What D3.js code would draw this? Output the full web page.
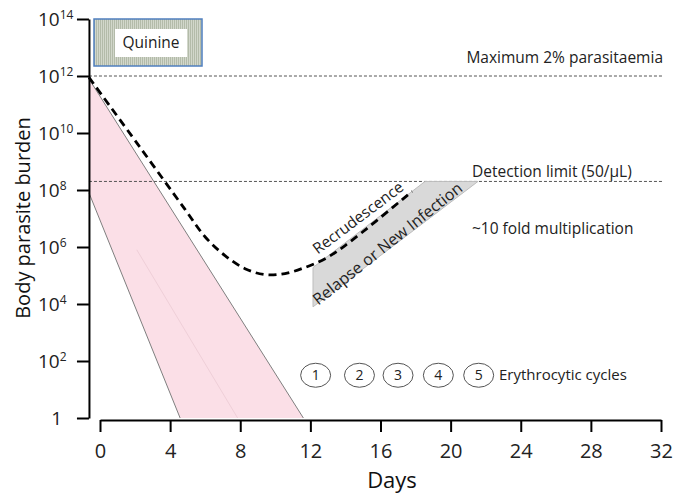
<!DOCTYPE html>
<html>
<head>
<meta charset="utf-8">
<script src="https://cdn.jsdelivr.net/npm/d3@7"></script>
<style>
  body { margin: 0; background: #fff; }
  svg { font-family: "Open Sans", sans-serif; }
</style>
</head>
<body>
<div id="chart"></div>
<script>
// chart values (days on x, log10 of parasite burden on y)
let xTicks = [0, 4, 8, 12, 16, 20, 24, 28, 32];
let yTickExps = [0, 2, 4, 6, 8, 10, 12, 14];

// pink drug-kill band: upper and lower edges
let bandUpper = [[-0.63, 11.9], [11.6, 0]];
let bandLower = [[-0.63, 7.9], [4.57, 0]];
let bandMid = [[2.1, 5.9], [7.85, 0]];

// dashed recrudescence curve
let curveDays = [-0.63, 2.28, 4.85, 5.99, 7.13, 8.27, 9.41, 10.55, 11.69, 12.84, 13.98, 17.8];
let curveExps = [11.95, 9.5, 7.32, 6.36, 5.7, 5.24, 5.03, 5.07, 5.28, 5.59, 6.05, 7.95];

// grey relapse / new infection wedge
let wedge = [[12.15, 3.9], [12.15, 5.28], [18.54, 8.3], [21.56, 8.3]];

// erythrocytic cycle markers
let cycleLabels = ["1", "2", "3", "4", "5"];
let cycleDays = [12.3, 14.8, 17.0, 19.3, 21.6];
let cycleExp = 1.5;

// reference levels
let maxExp = 12;
let detectExp = 8.3;

// layout
let svgWidth = 688;
let svgHeight = 494;
let yAxisDay = -0.63;

let svg = d3.select("#chart")
  .append("svg")
  .attr("width", svgWidth)
  .attr("height", svgHeight);

let x = d3.scaleLinear().domain([0, 32]).range([100, 661]);
let y = d3.scaleLog().domain([1, 1e14]).range([418, 19]);
let yE = e => y(Math.pow(10, e));

// hatched fill for the quinine box
let defs = svg.append("defs");
let pat = defs.append("pattern")
  .attr("id", "hatch")
  .attr("width", 2).attr("height", 2)
  .attr("patternUnits", "userSpaceOnUse");
pat.append("rect").attr("width", 2).attr("height", 2).attr("fill", "#d2d7cb");
pat.append("rect").attr("width", 1).attr("height", 2).attr("fill", "#b3bba9");

// pink band
let bandPoly = [bandUpper[0], bandUpper[1], bandLower[1], bandLower[0]];
svg.append("polygon")
  .attr("points", bandPoly.map(d => [x(d[0]), yE(d[1])].join(",")).join(" "))
  .attr("fill", "#fbdfe7");

let line = d3.line().x(d => x(d[0])).y(d => yE(d[1]));

[bandUpper, bandLower].forEach(function(seg) {
  svg.append("path")
    .attr("d", line(seg))
    .attr("fill", "none")
    .attr("stroke", "#7f7f7f")
    .attr("stroke-width", 1);
});

svg.append("path")
  .attr("d", line(bandMid))
  .attr("fill", "none")
  .attr("stroke", "#efcfd8")
  .attr("stroke-width", 1);

// reference dotted lines
[maxExp, detectExp].forEach(function(e) {
  svg.append("line")
    .attr("x1", x(yAxisDay)).attr("x2", x(32) + 1)
    .attr("y1", yE(e)).attr("y2", yE(e))
    .attr("stroke", "#555")
    .attr("stroke-width", 1)
    .attr("stroke-dasharray", "3,2");
});

// grey wedge
svg.append("polygon")
  .attr("points", wedge.map(d => [x(d[0]), yE(d[1])].join(",")).join(" "))
  .attr("fill", "#d9d9d9")
  .attr("stroke", "#bdbdbd")
  .attr("stroke-width", 1);

// dashed curve
let curvePts = curveDays.map((d, i) => [d, curveExps[i]]);
svg.append("path")
  .attr("d", d3.line().curve(d3.curveCatmullRom).x(d => x(d[0])).y(d => yE(d[1]))(curvePts))
  .attr("fill", "none")
  .attr("stroke", "#000")
  .attr("stroke-width", 2.8)
  .attr("stroke-dasharray", "8,5");

// axes
let yAxis = d3.axisLeft(y)
  .tickValues(yTickExps.map(e => Math.pow(10, e)))
  .tickSize(12)
  .tickSizeOuter(0)
  .tickFormat(() => "");

let yG = svg.append("g")
  .attr("transform", `translate(${x(yAxisDay)}, 0)`)
  .call(yAxis);
yG.selectAll("path, line").attr("stroke", "#000").attr("stroke-width", 2);

let xAxis = d3.axisBottom(x)
  .tickValues(xTicks)
  .tickSize(12)
  .tickSizeOuter(0)
  .tickPadding(12);

let xG = svg.append("g")
  .attr("transform", "translate(0, 420)")
  .call(xAxis);
xG.selectAll("path, line").attr("stroke", "#000").attr("stroke-width", 2);
xG.selectAll("text")
  .style("font-family", "'Open Sans', sans-serif")
  .style("font-size", "20px")
  .attr("fill", "#222");

// y tick labels with superscripts
yTickExps.forEach(function(e) {
  if (e === 0) {
    svg.append("text")
      .attr("x", 62).attr("y", yE(e) + 7)
      .attr("text-anchor", "end")
      .style("font-size", "19px")
      .attr("fill", "#222")
      .text("1");
  } else {
    let t = svg.append("text")
      .attr("x", 38).attr("y", yE(e) + 7)
      .style("font-size", "19px")
      .attr("fill", "#222");
    t.append("tspan").text("10");
    t.append("tspan")
      .attr("dy", -7)
      .style("font-size", "12px")
      .text(String(e));
  }
});

// axis titles
svg.append("text")
  .attr("transform", "translate(30, 218) rotate(-90)")
  .attr("text-anchor", "middle")
  .style("font-size", "20px")
  .attr("fill", "#111")
  .text("Body parasite burden");

svg.append("text")
  .attr("x", 392).attr("y", 488)
  .attr("text-anchor", "middle")
  .style("font-size", "22px")
  .attr("fill", "#111")
  .text("Days");

// quinine box
svg.append("rect")
  .attr("x", 94).attr("y", 19)
  .attr("width", 108).attr("height", 47)
  .attr("fill", "url(#hatch)")
  .attr("stroke", "#4f7fbf")
  .attr("stroke-width", 1.5);
svg.append("rect")
  .attr("x", 115).attr("y", 29)
  .attr("width", 72).attr("height", 28)
  .attr("fill", "#fff");
svg.append("text")
  .attr("x", 151).attr("y", 48)
  .attr("text-anchor", "middle")
  .style("font-size", "15.5px")
  .attr("fill", "#222")
  .text("Quinine");

// annotations
svg.append("text")
  .attr("x", 663).attr("y", 63)
  .attr("text-anchor", "end")
  .style("font-size", "15.5px")
  .attr("fill", "#222")
  .text("Maximum 2% parasitaemia");

svg.append("text")
  .attr("x", 472).attr("y", 177)
  .style("font-size", "15.5px")
  .attr("fill", "#222")
  .text("Detection limit (50/\u00b5L)");

svg.append("text")
  .attr("x", 472).attr("y", 234)
  .style("font-size", "15.5px")
  .attr("fill", "#222")
  .text("~10 fold multiplication");

svg.append("text")
  .attr("transform", `translate(${x(14.72)}, ${yE(7.03)}) rotate(-37)`)
  .attr("text-anchor", "middle")
  .attr("dy", "0.35em")
  .style("font-size", "15.5px")
  .attr("fill", "#222")
  .text("Recrudescence");

svg.append("text")
  .attr("transform", `translate(${x(16.4)}, ${yE(6.12)}) rotate(-38.5)`)
  .attr("text-anchor", "middle")
  .attr("dy", "0.35em")
  .style("font-size", "16px")
  .attr("fill", "#222")
  .text("Relapse or New Infection");

// erythrocytic cycles
let cyc = svg.selectAll("g.cycle")
  .data(cycleLabels)
  .enter()
  .append("g")
  .attr("class", "cycle")
  .attr("transform", (d, i) => `translate(${x(cycleDays[i])}, ${yE(cycleExp)})`);

cyc.append("ellipse")
  .attr("rx", 15).attr("ry", 12)
  .attr("fill", "#fff")
  .attr("stroke", "#555")
  .attr("stroke-width", 1);

cyc.append("text")
  .attr("text-anchor", "middle")
  .attr("dy", "0.36em")
  .style("font-size", "14px")
  .attr("fill", "#222")
  .text(d => d);

svg.append("text")
  .attr("x", 499).attr("y", 380)
  .style("font-size", "15px")
  .attr("fill", "#222")
  .text("Erythrocytic cycles");
</script>
</body>
</html>
